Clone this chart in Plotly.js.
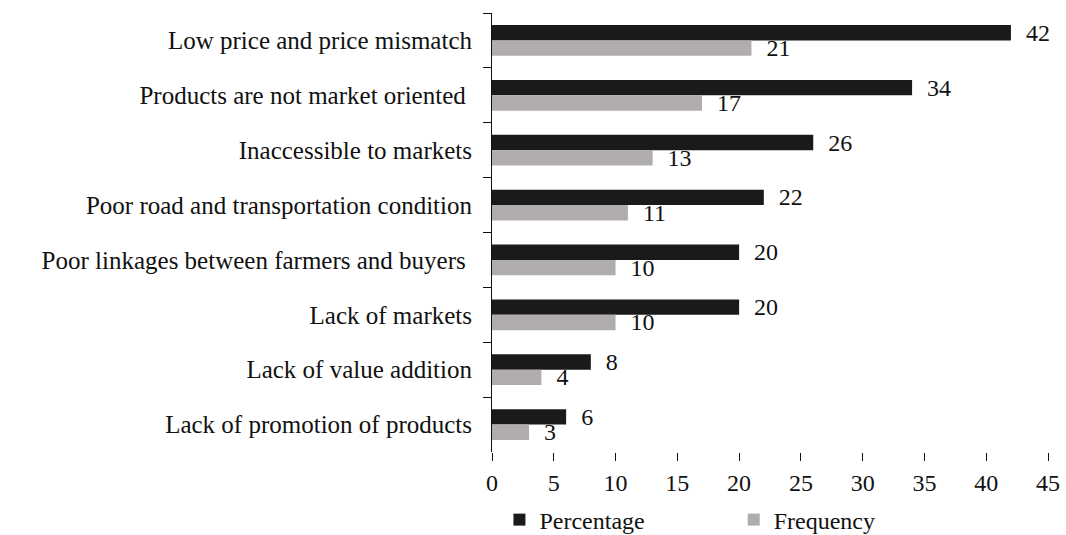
<!DOCTYPE html>
<html>
<head>
<meta charset="utf-8">
<script src="https://cdn.plot.ly/plotly-3.0.1.min.js"></script>
<style>html,body{margin:0;padding:0;background:#fff;}#chart{width:1066px;height:535px;}</style>
</head>
<body>
<div id="chart"></div>
<script>
const categories = [
  "Low price and price mismatch",
  "Products are not market oriented ",
  "Inaccessible to markets",
  "Poor road and transportation condition",
  "Poor linkages between farmers and buyers ",
  "Lack of markets",
  "Lack of value addition",
  "Lack of promotion of products"
];
const percentage = [42, 34, 26, 22, 20, 20, 8, 6];
const frequency = [21, 17, 13, 11, 10, 10, 4, 3];
const xTicks = [0, 5, 10, 15, 20, 25, 30, 35, 40, 45];
const seriesNames = ["Percentage", "Frequency"];

const font = "Liberation Serif, Times New Roman, serif";
const traces = [
  {
    type: "bar", orientation: "h", name: seriesNames[0] + "\u00a0".repeat(14),
    y: categories, x: percentage,
    marker: {color: "#1a1a1a"},
    text: percentage.map(v => "\u00a0\u00a0" + v), textposition: "outside",
    textfont: {family: font, size: 24, color: "#111"},
    constraintext: "none", cliponaxis: false, hoverinfo: "none"
  },
  {
    type: "bar", orientation: "h", name: seriesNames[1],
    y: categories, x: frequency,
    marker: {color: "#b1adad"},
    text: frequency.map(v => "\u00a0\u00a0" + v), textposition: "outside",
    textfont: {family: font, size: 24, color: "#111"},
    constraintext: "none", cliponaxis: false, hoverinfo: "none"
  }
];
const layout = {
  width: 1066, height: 535,
  margin: {l: 492, r: 18, t: 13, b: 83},
  paper_bgcolor: "#fff", plot_bgcolor: "#fff",
  barmode: "group", bargap: 0.44, bargroupgap: 0,
  font: {family: font, size: 24, color: "#111"},
  showlegend: true,
  legend: {orientation: "h", xref: "paper", x: 0.356, xanchor: "center",
           yref: "container", y: 0.028, yanchor: "middle",
           font: {family: font, size: 24, color: "#111"}, traceorder: "normal", itemwidth: 30},
  xaxis: {
    range: [0, 45], tickvals: xTicks, ticktext: xTicks.map(String),
    showgrid: false, zeroline: false, showline: false, automargin: false,
    ticks: "outside", ticklen: 8, tickcolor: "#111", tickwidth: 1,
    tickfont: {family: font, size: 24, color: "#111"}, ticklabelstandoff: 1, fixedrange: true
  },
  yaxis: {
    type: "category", autorange: "reversed", automargin: false,
    showgrid: false, zeroline: false, showline: true, linecolor: "#111", linewidth: 1,
    ticks: "outside", tickson: "boundaries", ticklen: 8, tickcolor: "#111",
    tickfont: {family: font, size: 25, color: "#111"}, ticklabelstandoff: 14, fixedrange: true
  }
};
Plotly.newPlot("chart", traces, layout, {displayModeBar: false, staticPlot: true});
</script>
</body>
</html>
